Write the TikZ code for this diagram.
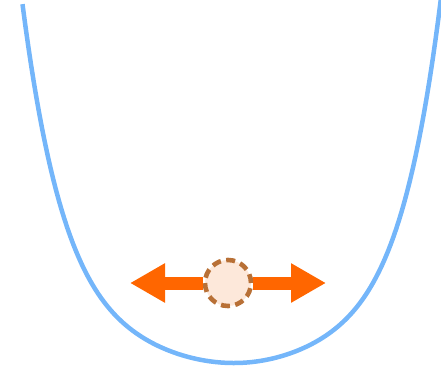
\documentclass[tikz,border=0pt]{standalone}
\usetikzlibrary{arrows.meta}
\definecolor{well}{HTML}{74B6FA}
\definecolor{push}{HTML}{FF6600}
\definecolor{rim}{HTML}{B87036}
\definecolor{core}{HTML}{FDE8DA}

\begin{document}
\begin{tikzpicture}[x=1pt,y=-1pt,
 declare function={dep(\u)=28.8*\u*\u+2.57*\u*\u*\u*\u*\u*\u;},
 curve/.style={draw=well,line width=4.5pt},
 ball/.style={circle,draw=rim,fill=core,line width=4.6pt,dash pattern=on 9pt off 5.45pt,minimum size=46pt,inner sep=0pt},
 arr/.style={-{Triangle[length=35pt,width=37pt]},line width=13pt,draw=push}]
\useasboundingbox (0,0) rectangle (441,369);
\draw[curve] plot[domain=22.5:441,samples=150,variable=\t] (\t,{363-dep((\t-234)/((\t<234)?100:97.5))});
\node[ball] (ball) at (228,283) {};
\coordinate (ltip) at (130,283);
\coordinate (rtip) at (326,283);
\draw[arr] (ball.west) -- (ltip);
\draw[arr] (ball.east) -- (rtip);
\end{tikzpicture}
\end{document}
